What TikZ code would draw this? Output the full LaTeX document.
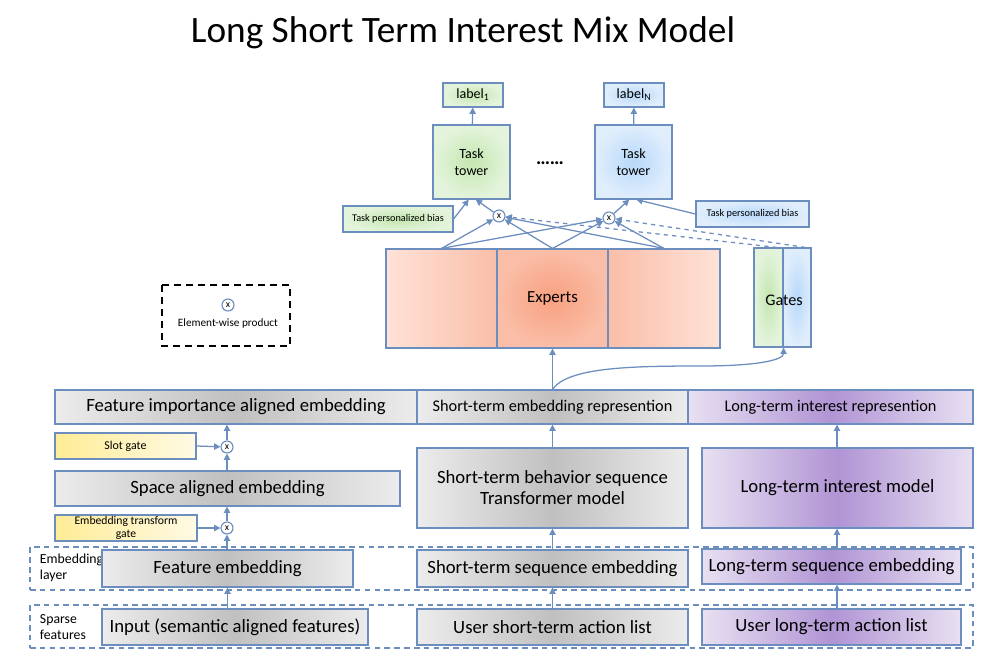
\documentclass[tikz,border=0pt]{standalone}
\usepackage{fontspec}
\setmainfont{Carlito}
\usetikzlibrary{arrows.meta,calc}
\definecolor{lnk}{RGB}{108,142,191}
\definecolor{gryA}{RGB}{236,236,236}
\definecolor{gryB}{RGB}{192,192,192}
\definecolor{purA}{RGB}{232,224,242}
\definecolor{purB}{RGB}{176,148,212}
\definecolor{grnA}{RGB}{228,244,220}
\definecolor{grnB}{RGB}{196,230,176}
\definecolor{bluA}{RGB}{224,238,252}
\definecolor{bluB}{RGB}{184,216,250}
\definecolor{salA}{RGB}{255,226,216}
\definecolor{salB}{RGB}{250,190,168}
\definecolor{salC}{RGB}{248,160,128}
\definecolor{ylwA}{RGB}{255,236,150}
\definecolor{ylwB}{RGB}{255,250,228}
\tikzset{
  wd/.style={minimum width=#1*0.025cm},
  ht/.style={minimum height=#1*0.025cm},
  box/.style={draw=lnk, line width=0.8pt, inner sep=0pt, align=center, font=\fontsize{13.3}{15}\selectfont},
  graybox/.style={box, left color=gryA, right color=gryA, middle color=gryB},
  purpbox/.style={box, left color=purA, right color=purA, middle color=purB},
  grnbox/.style={box, shading=radial, inner color=grnB, outer color=grnA},
  blubox/.style={box, shading=radial, inner color=bluB, outer color=bluA},
  ylwbox/.style={box, left color=ylwA, right color=ylwB, font=\fontsize{8.5}{10}\selectfont},
  mult/.style={circle, draw=lnk, fill=white, line width=0.8pt, inner sep=0pt, minimum size=12*0.025cm, font=\fontsize{7}{7}\selectfont},
  layer/.style={draw=lnk, line width=0.8pt, dash pattern=on 4pt off 3pt},
  arr/.style={draw=lnk, line width=0.9pt, -{Triangle[width=4.5pt,length=4.5pt]}},
}
\begin{document}
\begin{tikzpicture}[x=0.025cm, y=-0.025cm]
  \useasboundingbox (0,0) rectangle (1000,666);
  \node[font=\fontsize{26.5}{30}\selectfont] (title) at (463,33) {Long Short Term Interest Mix Model};

  % task towers
  \node[grnbox, wd=60, ht=24, font=\fontsize{10}{12}\selectfont] (lab1) at (473,95) {label\textsubscript{1}};
  \node[blubox, wd=60, ht=24, font=\fontsize{10}{12}\selectfont] (labN) at (634,95) {label\textsubscript{N}};
  \node[grnbox, wd=77, ht=74, font=\fontsize{10}{12}\selectfont] (tw1) at (471.5,162) {Task\\tower};
  \node[blubox, wd=77, ht=74, font=\fontsize{10}{12}\selectfont] (tw2) at (633.5,162) {Task\\tower};
  \node[font=\fontsize{14}{14}\selectfont\bfseries] (dots) at (550,163) {\ldots\ldots};
  \node[grnbox, wd=110, ht=26, font=\fontsize{7.3}{9}\selectfont] (bias1) at (398,219) {Task personalized bias};
  \node[blubox, wd=113, ht=26, font=\fontsize{7.3}{9}\selectfont] (bias2) at (752.5,214) {Task personalized bias};
  \node[mult] (m1) at (499,216) {x};
  \node[mult] (m2) at (609,218) {x};

  % experts and gates
  \node[box, wd=111, ht=99, left color=salA, right color=salB] (ex1) at (441.5,298.5) {};
  \node[box, wd=111, ht=99, shading=radial, inner color=salC, outer color=salB, font=\fontsize{12}{14}\selectfont] (ex2) at (552.5,298.5) {Experts};
  \node[box, wd=112, ht=99, left color=salB, right color=salA] (ex3) at (664,298.5) {};
  \node[box, wd=29, ht=99, shading=radial, inner color=grnB, outer color=grnA] (gA) at (768.5,297.5) {};
  \node[box, wd=28, ht=99, shading=radial, inner color=bluB, outer color=bluA] (gB) at (797,297.5) {};
  \node[font=\fontsize{11.5}{14}\selectfont] (gt) at (784,300) {Gates};

  % legend
  \draw[black, line width=1.5pt, dash pattern=on 5pt off 3.5pt] (162,285) rectangle (290,346);
  \node[mult] (mL) at (228,305) {x};
  \node[font=\fontsize{8}{9}\selectfont] (lgd) at (228,323) {Element-wise product};

  % representations
  \node[graybox, wd=362, ht=34] (fia) at (236,407) {Feature importance aligned embedding};
  \node[graybox, wd=271, ht=34, font=\fontsize{11.6}{13}\selectfont] (ster) at (552.5,407) {Short-term embedding represention};
  \node[purpbox, wd=285, ht=34, font=\fontsize{11.6}{13}\selectfont] (ltir) at (830.5,407) {Long-term interest represention};
  \node[ylwbox, wd=141, ht=26] (slot) at (125.5,446) {Slot gate};
  \node[mult] (mS) at (227,447) {x};
  \node[graybox, wd=345, ht=35] (sae) at (227.5,488.5) {Space aligned embedding};
  \node[ylwbox, wd=142, ht=26, font=\fontsize{8.3}{9.5}\selectfont] (etg) at (126,528) {Embedding transform\\gate};
  \node[mult] (mE) at (227,528) {x};
  \node[graybox, wd=271, ht=80] (stbs) at (552.5,488) {Short-term behavior sequence\\Transformer model};
  \node[purpbox, wd=271, ht=80] (ltim) at (837.5,488) {Long-term interest model};

  % embedding layer and sparse features
  \node[layer, wd=943, ht=43] (embL) at (501.5,568.5) {};
  \node[layer, wd=943, ht=43] (spaL) at (501.5,626.5) {};
  \node[anchor=west, align=left, font=\fontsize{9.8}{11}\selectfont] (embT) at (35,568) {Embedding\\layer};
  \node[anchor=west, align=left, font=\fontsize{9.8}{11}\selectfont] (spaT) at (35,627) {Sparse\\features};
  \node[graybox, wd=251, ht=37] (fe) at (227.5,568.5) {Feature embedding};
  \node[graybox, wd=271, ht=37] (sse) at (552.5,568.5) {Short-term sequence embedding};
  \node[purpbox, wd=259, ht=35] (lse) at (831.5,566.5) {Long-term sequence embedding};
  \node[graybox, wd=266, ht=36] (inp) at (235,627) {Input (semantic aligned features)};
  \node[graybox, wd=271, ht=36] (usa) at (552.5,627) {User short-term action list};
  \node[purpbox, wd=259, ht=36] (ula) at (831.5,627) {User long-term action list};

  % left column
  \draw[arr] (inp.north -| fe.south) -- (fe.south);
  \draw[arr] (fe.north -| mE) -- (mE);
  \draw[arr] (mE) -- (sae.south -| mE);
  \draw[arr] (etg.east) -- (mE);
  \draw[arr] (sae.north -| mS) -- (mS);
  \draw[arr] (mS) -- (fia.south -| mS);
  \draw[arr] (slot.east) -- (mS);
  % short term column
  \draw[arr] (usa) -- (sse);
  \draw[arr] (sse) -- (stbs);
  \draw[arr] (stbs) -- (ster);
  % long term column
  \coordinate (lx) at (837,0);
  \draw[arr] (ula.north -| lx) -- (lse.south -| lx);
  \draw[arr] (lse.north -| lx) -- (ltim.south -| lx);
  \draw[arr] (ltim.north -| lx) -- (ltir.south -| lx);

  % into experts and gates
  \coordinate (bend) at (700,366);
  \draw[arr] (ster.north) -- (ex2.south);
  \draw[arr] (ster.north) .. controls +(15,-22) and +(-70,0) .. (bend) .. controls +(60,0) and +(0,12) .. (gA.south east);
  \foreach \E in {ex1,ex2,ex3} {%
    \draw[arr] (\E.north) -- (m1);
    \draw[arr] (\E.north) -- (m2);
  }
  \draw[arr, dashed] ([xshift=6pt]gA.north) -- (m1);
  \draw[arr, dashed] ([xshift=6pt]gB.north) -- (m2);

  % towers
  \draw[arr] (m1) -- ([xshift=3pt]tw1.south);
  \draw[arr] (bias1.east) -- ([xshift=-2pt]tw1.south);
  \draw[arr] (m2) -- ([xshift=-3pt]tw2.south);
  \draw[arr] (bias2.west) -- ([xshift=2pt]tw2.south);
  \draw[arr] (tw1) -- (lab1);
  \draw[arr] (tw2) -- (labN);
\end{tikzpicture}
\end{document}
